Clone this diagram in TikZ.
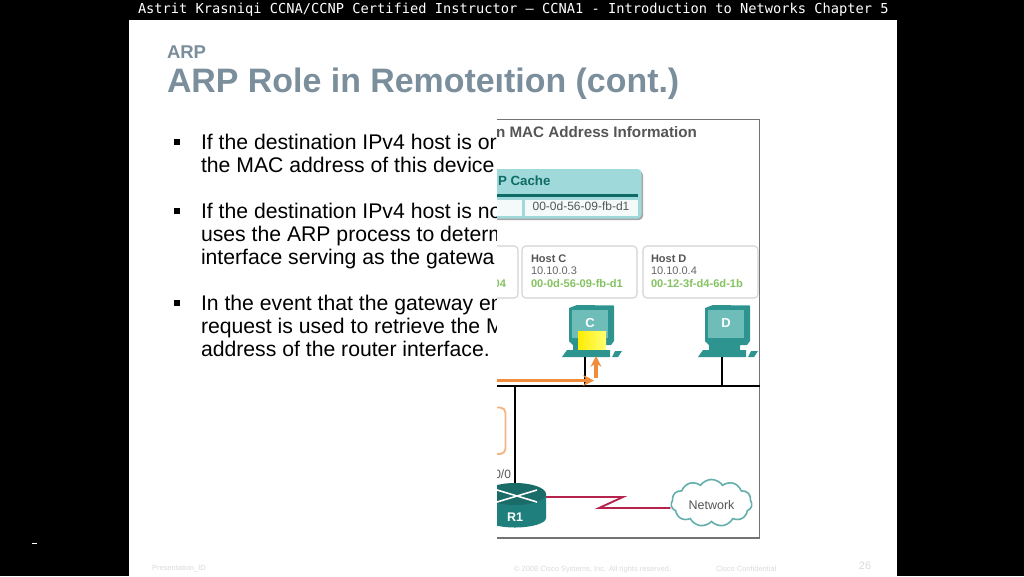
\documentclass[tikz,border=0pt]{standalone}
\usepackage{fontspec}
\setmainfont{Liberation Sans}
\setmonofont{DejaVu Sans Mono}
\usetikzlibrary{shapes.symbols,arrows.meta,shapes.geometric}
\definecolor{titlegray}{HTML}{7B8E9C}
\definecolor{tealdark}{HTML}{1F7F7C}
\definecolor{tealmid}{HTML}{2E9490}
\definecolor{tealscreen}{HTML}{6FBDB9}
\definecolor{cachebg}{HTML}{9FD9D9}
\definecolor{cacheline}{HTML}{0F6B66}
\definecolor{macgreen}{HTML}{84C361}
\definecolor{arrowor}{HTML}{F08C3C}
\definecolor{linkred}{HTML}{B5234F}
\definecolor{textgray}{HTML}{555555}
\newcommand{\pxfont}[1]{\fontsize{\dimexpr #1pt*3/4\relax}{\dimexpr #1pt*9/10\relax}\selectfont}
\tikzset{
  plain/.style={inner sep=0pt,outer sep=0pt},
  topline/.style={plain,anchor=base west,text=white,font=\ttfamily\pxfont{13.7}},
  bodyline/.style={plain,anchor=base west,text=black,font=\pxfont{21.2}},
  bulletmark/.style={fill=black,minimum size=4.2pt,inner sep=0pt},
  footer/.style={plain,text=black!14,font=\pxfont{7.5}},
  hostbox/.style={draw=black!18,fill=white,rounded corners=3pt,line width=0.8pt},
  hosttitle/.style={plain,anchor=west,text=textgray,font=\bfseries\pxfont{11}},
  hostip/.style={plain,anchor=west,text=black!60,font=\pxfont{11}},
  hostmac/.style={plain,anchor=west,text=macgreen,font=\bfseries\pxfont{11.1}},
  lan/.style={black,line width=1.5pt},
  wan/.style={linkred,line width=1.4pt},
  pkt/.style={arrowor,line width=2.4pt,-{Stealth[length=8pt,width=8pt]}},
}
\newcommand{\pcicon}[2]{%
  \begin{scope}[shift={(#1,0)}]
    \fill[tealmid] (0,308) -- (8,305) -- (45,305.5) -- (45,341) -- (42,345) -- (35,345) -- (35,350) -- (4,350) -- (4,345) -- (0,341) -- cycle;
    \fill[tealscreen] (3,310) -- (39,310) -- (39,338) -- (3,338) -- cycle;
    \fill[tealmid] (-7,357) -- (-2,350) -- (41,350) -- (41,357) -- cycle;
    \fill[tealmid] (43,357) -- (46,351) -- (53,351) -- (49,357) -- cycle;
    \node[plain,text=white,font=\bfseries\pxfont{13}] (#2) at (21,323) {#2};
  \end{scope}}
\begin{document}
\begin{tikzpicture}[x=0.75pt,y=-0.75pt]
\useasboundingbox (0,0) rectangle (1024,576);
\fill[black] (0,0) rectangle (1024,576);
\fill[white] (129,20) rectangle (897,576);
\fill[white] (32,543) rectangle (37,544);
\node[topline] (bar) at (138,13) {Astrit Krasniqi CCNA/CCNP Certified Instructor – CCNA1 - Introduction to Networks Chapter 5};
\node[plain,anchor=base west,text=titlegray,font=\bfseries\pxfont{18.5}] (section) at (167,58) {ARP};
\node[plain,anchor=base west,text=titlegray,font=\bfseries\pxfont{33.9}] (title) at (167,92) {ARP Role in Remoteıtion (cont.)};
\foreach \n/\y in {a/142,b/211,c/303}{\node[bulletmark] (bul\n) at (177,\y) {};}
\node[bodyline] (l1) at (201,149) {If the destination IPv4 host is or};
\node[bodyline] (l2) at (201,172) {the MAC address of this device};
\node[bodyline] (l3) at (201,218) {If the destination IPv4 host is no};
\node[bodyline] (l4) at (201,241) {uses the ARP process to determ};
\node[bodyline] (l5) at (201,264) {interface serving as the gatewa};
\node[bodyline] (l6) at (201,310) {In the event that the gateway en};
\node[bodyline] (l7) at (201,333) {request is used to retrieve the M};
\node[bodyline] (l8) at (201,356) {address of the router interface.};
\node[footer,anchor=base west] (f1) at (152,570) {Presentation\_ID};
\node[footer,anchor=base west] (f2) at (514,571) {© 2008 Cisco Systems, Inc. All rights reserved.};
\node[footer,anchor=base west] (f3) at (716,571) {Cisco Confidential};
\node[footer,anchor=center,font=\pxfont{11}] (f4) at (865,566) {26};
% figure panel
\fill[white] (497,100) rectangle (760,539);
\begin{scope}
\clip (497,100) rectangle (762,541);
\draw[black!55,line width=1.2pt] (490,119.5) -- (759.5,119.5) -- (759.5,538) -- (490,538);
\node[plain,anchor=east,text=textgray,font=\bfseries\pxfont{15.2}] (figtitle) at (697,132.5) {n MAC Address Information};
% ARP cache
\fill[black!35,rounded corners=3pt] (470,171) rectangle (643,220);
\fill[cachebg,rounded corners=3pt] (470,169) rectangle (641.5,218.5);
\fill[cacheline] (470,194) rectangle (638,196.5);
\fill[white!88!cachebg] (470,199.5) rectangle (522,216);
\fill[white!88!cachebg] (525,199.5) rectangle (638,216);
\node[plain,anchor=east,text=cacheline,font=\bfseries\pxfont{13.3}] (cachehead) at (550.5,181) {P Cache};
\node[plain,text=textgray,font=\pxfont{12}] (cachemac) at (581,206) {00-0d-56-09-fb-d1};
% host boxes
\draw[hostbox] (470,246) rectangle (518,298);
\draw[hostbox] (522,246) rectangle (637,298);
\draw[hostbox] (643,246) rectangle (758,298);
\node[hostmac,anchor=east] (hostbmac) at (506,284) {04};
\node[hosttitle] (hcn) at (531,259) {Host C};
\node[hostip] (hci) at (531,271) {10.10.0.3};
\node[hostmac] (hcm) at (531,284) {00-0d-56-09-fb-d1};
\node[hosttitle] (hdn) at (651,259) {Host D};
\node[hostip] (hdi) at (651,271) {10.10.0.4};
\node[hostmac] (hdm) at (651,284) {00-12-3f-d4-6d-1b};
% PCs
\pcicon{569}{C}
\pcicon{705}{D}
\shade[left color=yellow!85!orange,right color=yellow!55!white] (578,331) rectangle (606,349);
\coordinate (pcCbase) at (585,357);
\coordinate (pcDbase) at (721.5,357);
\coordinate (busL) at (490,386);
\coordinate (busR) at (760,386);
\coordinate (busC) at (585,386);
\coordinate (busD) at (721.5,386);
\coordinate (busR1) at (515,386);
\coordinate (r1top) at (515,483);
\draw[lan] (busL) -- (busR);
\draw[lan] (pcCbase) -- (busC);
\draw[lan] (pcDbase) -- (busD);
\draw[lan] (busR1) -- (r1top);
% orange trace
\coordinate (pktL) at (490,380.5);
\coordinate (pktR) at (594,380.5);
\coordinate (pktU) at (596,378);
\coordinate (pktT) at (596,356);
\draw[pkt] (pktL) -- (pktR);
\draw[pkt] (pktU) -- (pktT);
% orange callout fragment
\draw[arrowor!65,line width=1.4pt,rounded corners=4pt] (470,407.5) rectangle (505.5,454);
\node[plain,anchor=east,text=textgray,font=\pxfont{12}] (s00) at (511,474) {0/0};
% router
\fill[tealdark] (484,494) -- (484,518) arc[start angle=180,end angle=0,x radius=31,y radius=9.5] -- (546,494) -- cycle;
\fill[tealdark!85!black] (515,494) ellipse[x radius=31,y radius=11];
\draw[white,line width=1.2pt] (497,490) -- (537,502) (497,502) -- (537,490);
\node[plain,text=white,font=\bfseries\pxfont{12.5}] (R1) at (515,517) {R1};
% WAN link
\node[cloud,cloud puffs=11,cloud puff arc=110,aspect=1.7,draw=tealmid!75,line width=1.2pt,fill=white,minimum width=81pt*3/4,minimum height=47pt*3/4,inner sep=0pt] (cloud) at (711.5,503) {};
\node[plain,text=textgray,font=\pxfont{12.5}] (nettext) at (711.5,505) {Network};
\coordinate (r1east) at (546,497);
\coordinate (zza) at (623,497);
\coordinate (zzb) at (599,508);
\draw[wan] (r1east) -- (zza) -- (zzb) -- (cloud.west |- zzb);
\end{scope}
\end{tikzpicture}
\end{document}
